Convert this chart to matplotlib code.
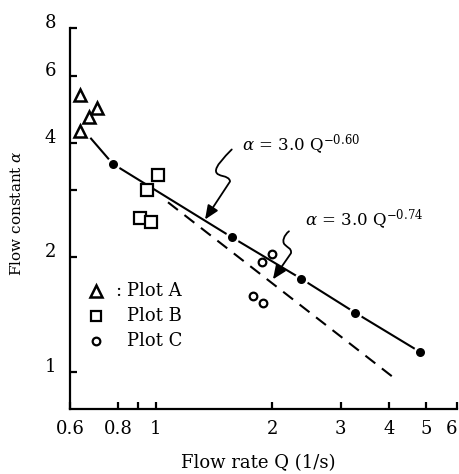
import matplotlib
matplotlib.use("Agg")
import matplotlib.pyplot as plt
import matplotlib.transforms as mtransforms
from matplotlib.path import Path
from matplotlib.patches import FancyArrowPatch
from matplotlib.ticker import FixedLocator, FixedFormatter, NullLocator

plt.rcParams['font.family'] = ['DejaVu Serif']
plt.rcParams['mathtext.fontset'] = 'dejavuserif'

# ---- data ----
plotA_q = [0.637, 0.704, 0.672, 0.637]
plotA_alpha = [5.34, 4.94, 4.68, 4.30]

plotB_q = [1.01, 0.948, 0.909, 0.971]
plotB_alpha = [3.30, 3.01, 2.53, 2.48]

plotC_q = [2.00, 1.88, 1.78, 1.89]
plotC_alpha = [2.04, 1.94, 1.58, 1.52]

dots_q = [0.774, 1.57, 2.37, 3.28, 4.81]
dots_alpha = [3.52, 2.26, 1.76, 1.43, 1.13]

# solid line (alpha = 3.0 Q^-0.60) drawn through the dots
solid_q = [0.680] + dots_q
solid_alpha = [4.10] + dots_alpha

# dashed line (alpha = 3.0 Q^-0.74)
dashed_q = [1.075, 4.10]
dashed_alpha = [2.79, 0.970]

xticks = [0.6, 0.8, 0.9, 1, 2, 3, 4, 5, 6]
xticklabels = ['0.6', '0.8', '', '1', '2', '3', '4', '5', '6']
yticks = [1, 2, 3, 4, 6, 8]
yticklabels = ['1', '2', '', '4', '6', '8']

legend_labels = ['Plot A', 'Plot B', 'Plot C']
eq1 = r'$\alpha$ = 3.0 Q$^{-0.60}$'
eq2 = r'$\alpha$ = 3.0 Q$^{-0.74}$'

# ---- figure ----
fig = plt.figure(figsize=(4.59, 4.74), dpi=100)
ax = fig.add_axes([70/459, 1-409/474, 387/459, 381/474])
ax.set_xscale('log')
ax.set_yscale('log')
ax.set_xlim(0.6, 6)
ax.set_ylim(0.80, 8)

for s in ['top', 'right']:
    ax.spines[s].set_visible(False)
for s in ['left', 'bottom']:
    ax.spines[s].set_linewidth(1.6)

ax.xaxis.set_major_locator(FixedLocator(xticks))
ax.xaxis.set_major_formatter(FixedFormatter(xticklabels))
ax.xaxis.set_minor_locator(NullLocator())
ax.yaxis.set_major_locator(FixedLocator(yticks))
ax.yaxis.set_major_formatter(FixedFormatter(yticklabels))
ax.yaxis.set_minor_locator(NullLocator())
ax.tick_params(axis='both', direction='in', length=5, width=1.6, labelsize=13)
ax.tick_params(axis='x', pad=8)
ax.tick_params(axis='y', pad=10)

# shift y tick labels slightly upward as in the original
off = mtransforms.ScaledTranslation(0, 5/72, fig.dpi_scale_trans)
for lab in ax.get_yticklabels():
    lab.set_transform(lab.get_transform() + off)
xl = ax.get_xticklabels()
xl[-1].set_ha('right')

ax.set_xlabel('Flow rate Q (1/s)', fontsize=13)
ax.xaxis.set_label_coords(0.486, -0.118)
ax.set_ylabel(r'Flow constant $\alpha$', fontsize=11)
ax.yaxis.set_label_coords(-0.118, 0.515)

# lines
ax.plot(dashed_q, dashed_alpha, color='black', lw=1.5, dashes=(6, 4), zorder=2)
ax.plot(solid_q, solid_alpha, color='black', lw=1.5, zorder=3)
ax.plot(dots_q, dots_alpha, 'o', color='white', ms=10, mew=0, zorder=4)
ax.plot(dots_q, dots_alpha, 'o', color='black', ms=6.5, mew=0, zorder=5)

mk = dict(color='black', mfc='white', ls='none', zorder=6)
ax.plot(plotA_q, plotA_alpha, '^', ms=8.5, mew=1.8, **mk)
ax.plot(plotB_q, plotB_alpha, 's', ms=8, mew=1.6, **mk)
ax.plot(plotC_q, plotC_alpha, 'o', ms=5.5, mew=1.6, **mk)

# legend (manual)
leg_q = 0.70
leg_alpha = [1.63, 1.40, 1.205]
ax.plot([leg_q], [leg_alpha[0]], '^', ms=8, mew=1.8, **mk)
ax.plot([leg_q], [leg_alpha[1]], 's', ms=7.5, mew=1.6, **mk)
ax.plot([leg_q], [leg_alpha[2]], 'o', ms=5.5, mew=1.6, **mk)
ax.text(0.787, leg_alpha[0], ':', fontsize=13, va='center', ha='left')
for a, lab in zip(leg_alpha, legend_labels):
    ax.text(0.842, a, lab, fontsize=13, va='center', ha='left')

# equations
ax.text(1.67, 3.95, eq1, fontsize=12, va='center', ha='left')
ax.text(2.43, 2.52, eq2, fontsize=12, va='center', ha='left')

# squiggly arrows (shape in pixel offsets from the tip, y downward)
def squiggle(tip_q, tip_a, pts):
    trans = mtransforms.Affine2D().scale(1, -1) + \
        mtransforms.ScaledTranslation(tip_q, tip_a, ax.transData)
    codes = [Path.MOVETO, Path.CURVE4, Path.CURVE4, Path.CURVE4,
             Path.CURVE4, Path.CURVE4, Path.CURVE4, Path.LINETO]
    p = Path(pts, codes)
    arr = FancyArrowPatch(path=p, transform=trans,
                          arrowstyle='-|>,head_length=0.7,head_width=0.3',
                          mutation_scale=12, lw=1.3, color='black', zorder=7)
    ax.add_patch(arr)

squiggle(1.340, 2.515, [(26.7, -70), (19, -62), (10, -53), (11, -48),
                        (12, -42), (24, -45), (25, -38), (0, 0)])
squiggle(2.007, 1.752, [(16, -48), (11, -44), (9, -38), (11.5, -35),
                        (14, -32), (19, -31), (18, -26), (0, 0)])

fig.savefig('out.png', dpi=100)
